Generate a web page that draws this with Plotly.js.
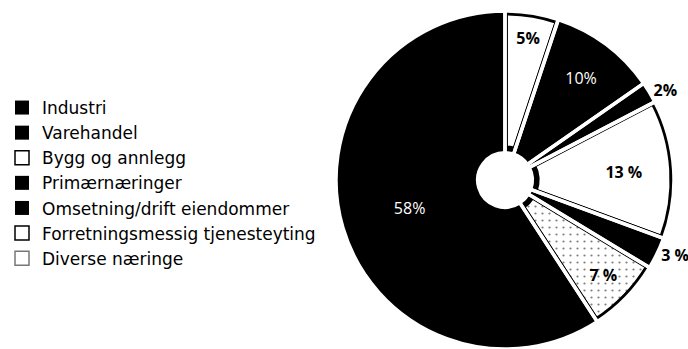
<!DOCTYPE html>
<html>
<head>
<meta charset="utf-8">
<script src="https://cdn.plot.ly/plotly-3.0.1.min.js"></script>
<style>html,body{margin:0;padding:0;background:#fff;}#chart{width:688px;height:349px;}</style>
</head>
<body>
<div id="chart"></div>
<script>
// Legend order (as shown in the reference legend)
const categories = ['Industri', 'Varehandel', 'Bygg og annlegg', 'Primærnæringer', 'Omsetning/drift eiendommer', 'Forretningsmessig tjenesteyting', 'Diverse næringe'];
const shares = [58, 10, 5, 2, 3, 13, 7];
const shareLabels = ['58%', '10%', '5%', '2%', '3 %', '13 %', '7 %'];
const fills = ['black', 'black', 'white', 'black', 'black', 'white', 'dots'];
// Clockwise order of the slices, starting at 12 o'clock
const sliceOrder = ['Bygg og annlegg', 'Varehandel', 'Primærnæringer', 'Forretningsmessig tjenesteyting', 'Omsetning/drift eiendommer', 'Diverse næringe', 'Industri'];
const outsideLabels = ['Primærnæringer', 'Omsetning/drift eiendommer'];

const W = 688, H = 349;
const cx = 505, cyFromBottom = 169;
const Rt = 169, Rb = 167.25;

const idx = sliceOrder.map(c => categories.indexOf(c));
const pLabels = idx.map(i => categories[i]);
const pValues = idx.map(i => shares[i]);
const pText = idx.map(i => shareLabels[i]);
const pColors = idx.map(i => fills[i] === 'black' ? '#000000' : '#ffffff');
const pPattern = idx.map(i => fills[i] === 'dots' ? '.' : '');
const pTextPos = pLabels.map(c => outsideLabels.includes(c) ? 'outside' : 'inside');
const pTextColor = idx.map((i, k) => (fills[i] === 'black' && pTextPos[k] === 'inside') ? '#ffffff' : '#000000');
const pWeight = idx.map((i, k) => (fills[i] === 'black' && pTextPos[k] === 'inside') ? 400 : 700);

const LABEL_FONT = 'Open Sans, Noto Sans, sans-serif';
const LEGEND_FONT = 'DejaVu Sans, sans-serif';

const mainPie = {
  type: 'pie',
  labels: pLabels,
  values: pValues,
  text: pText,
  textinfo: 'text',
  textposition: pTextPos,
  insidetextorientation: 'horizontal',
  sort: false,
  direction: 'clockwise',
  rotation: 0,
  hole: 0.19,
  marker: {
    colors: pColors,
    line: {color: '#000000', width: 5.5},
    pattern: {shape: pPattern, fgcolor: '#000000', bgcolor: '#ffffff', size: 7, solidity: 0.08, fillmode: 'overlay'}
  },
  textfont: {family: LABEL_FONT, size: 16, color: pTextColor, weight: pWeight},
  showlegend: false,
  hoverinfo: 'label+percent',
  domain: {x: [(cx - Rb) / W, (cx + Rb) / W], y: [(cyFromBottom - Rb) / H, (cyFromBottom + Rb) / H]}
};

const gapPie = {
  type: 'pie',
  labels: pLabels,
  values: pValues,
  textinfo: 'none',
  sort: false,
  direction: 'clockwise',
  rotation: 0,
  hole: 0,
  marker: {colors: pLabels.map(() => 'rgba(0,0,0,0)'), line: {color: '#ffffff', width: 3.5}},
  showlegend: false,
  hoverinfo: 'skip',
  domain: {x: [(cx - Rt) / W, (cx + Rt) / W], y: [(cyFromBottom - Rt) / H, (cyFromBottom + Rt) / H]}
};

const legendTraces = categories.map((c, i) => ({
  type: 'scatter',
  mode: 'markers',
  x: [null], y: [null],
  name: c,
  legendgroup: 'g' + i,
  showlegend: true,
  hoverinfo: 'skip',
  marker: {
    symbol: 'square',
    size: 14,
    color: fills[i] === 'black' ? '#000000' : '#ffffff',
    line: {color: fills[i] === 'dots' ? '#777777' : '#000000', width: fills[i] === 'black' ? 0 : 1.5}
  }
}));

const layout = {
  width: W, height: H,
  margin: {l: 0, r: 0, t: 0, b: 0},
  paper_bgcolor: '#ffffff',
  plot_bgcolor: '#ffffff',
  xaxis: {visible: false},
  yaxis: {visible: false},
  showlegend: true,
  legend: {
    x: 2 / W, y: 1 - 90 / H, xanchor: 'left', yanchor: 'top',
    traceorder: 'normal',
    tracegroupgap: 3,
    font: {family: LEGEND_FONT, size: 17, color: '#000000'},
    bgcolor: 'rgba(0,0,0,0)'
  }
};

Plotly.newPlot('chart', [...legendTraces, mainPie, gapPie], layout, {displayModeBar: false, staticPlot: true});
</script>
</body>
</html>
